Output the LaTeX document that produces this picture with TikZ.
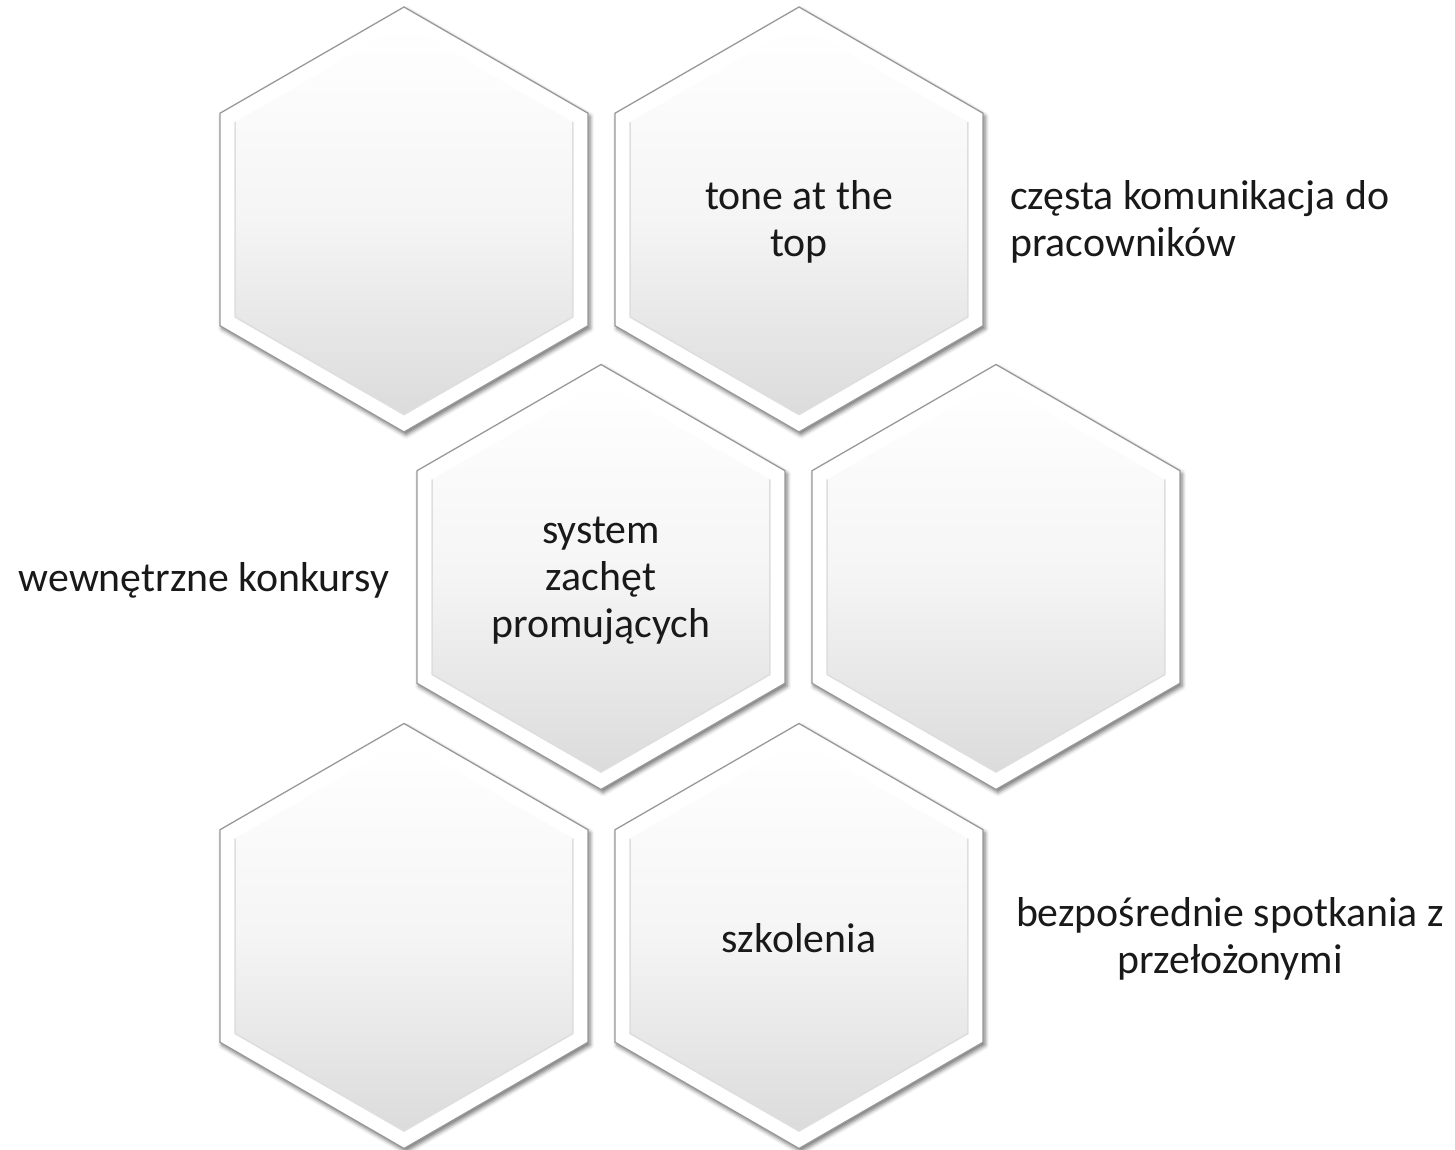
\documentclass[tikz,border=0pt]{standalone}
\usepackage{fontspec}
\setmainfont{Carlito}
\usetikzlibrary{shadows.blur}
\newcommand\hexat[2]{([shift={(#1)}]90:#2) -- ([shift={(#1)}]150:#2) -- ([shift={(#1)}]210:#2) -- ([shift={(#1)}]270:#2) -- ([shift={(#1)}]330:#2) -- ([shift={(#1)}]30:#2) -- cycle}
\newcommand\hexlow[2]{([shift={(#1)}]150:#2) -- ([shift={(#1)}]210:#2) -- ([shift={(#1)}]270:#2) -- ([shift={(#1)}]330:#2) -- ([shift={(#1)}]30:#2)}
\tikzset{
  hexouter/.style={fill=white, draw=black!40, line width=1.3pt, line join=miter,
    blur shadow={shadow xshift=2pt, shadow yshift=-3pt, shadow blur radius=4pt, shadow opacity=55}},
  hexinner/.style={top color=white, bottom color=black!14, middle color=black!4, draw=none},
  hexedge/.style={draw=black!13, line width=1.6pt, line join=miter},
  hextext/.style={align=center, font=\fontsize{41.8}{47}\selectfont, text=black!90, inner sep=0pt},
  sidetext/.style={font=\fontsize{41.8}{47}\selectfont, text=black!90, inner sep=0pt}
}
\begin{document}
\begin{tikzpicture}[x=1pt,y=1pt]
\useasboundingbox (0,0) rectangle (1455,1149);
\coordinate (cTL) at (404,929.5);
\coordinate (cTR) at (799,929.5);
\coordinate (cML) at (601,572);
\coordinate (cMR) at (996,572);
\coordinate (cBL) at (404,213);
\coordinate (cBR) at (799,213);
\foreach \c in {cTL,cTR,cML,cMR,cBL,cBR}{
  \path[hexouter] \hexat{\c}{212.5};
  \path[hexinner] \hexat{\c}{195};
  \path[hexedge] \hexlow{\c}{195};
}
\node[hextext] (tone) at ([yshift=-2pt]cTR) {tone at the\\top};
\node[hextext] (system) at ([yshift=-4pt]cML) {system\\zachęt\\promujących};
\node[hextext] (szkol) at ([yshift=-2pt]cBR) {szkolenia};
\node[sidetext, anchor=west, align=left] (czesta) at (1010,927.5) {częsta komunikacja do\\pracowników};
\node[sidetext, align=center] (wewn) at (204,569) {wewnętrzne konkursy};
\node[sidetext, align=center] (bezp) at (1230,210) {bezpośrednie spotkania z\\przełożonymi};
\end{tikzpicture}
\end{document}
